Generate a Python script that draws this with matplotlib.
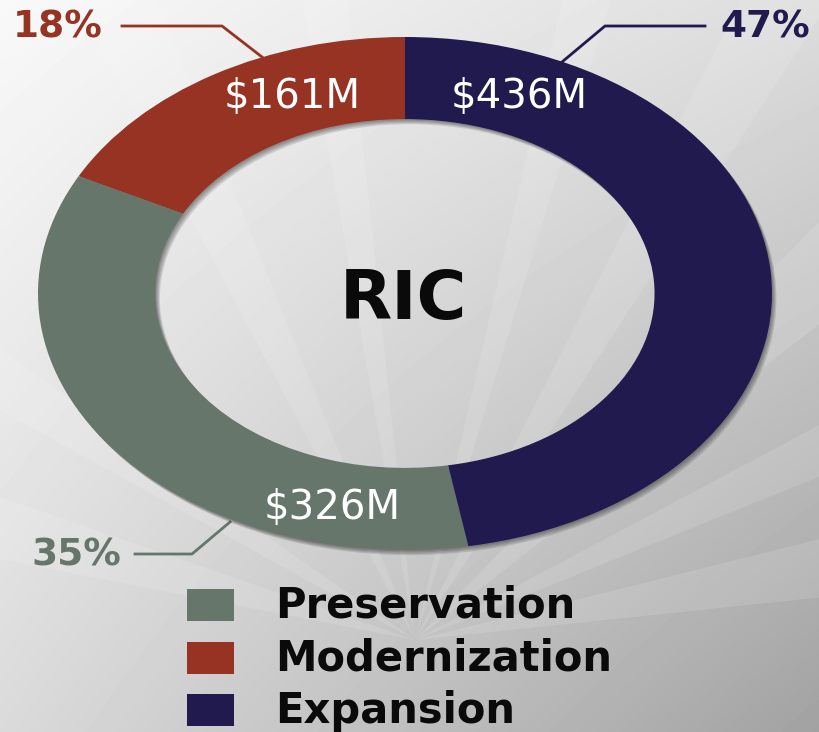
import matplotlib.pyplot as plt
import numpy as np
from matplotlib.patches import Rectangle, Polygon

# chart data
categories = ["Preservation", "Modernization", "Expansion"]
amounts = [326, 161, 436]          # $M
percents = [35, 18, 47]            # as printed on the chart
colors = ["#66766a", "#963322", "#201a4f"]

W, H = 819, 732


def main():
    fig = plt.figure(figsize=(W / 100, H / 100), dpi=100)

    # background axes in pixel coordinates
    bg = fig.add_axes([0, 0, 1, 1])
    bg.set_xlim(0, W)
    bg.set_ylim(H, 0)
    bg.axis("off")

    # soft gray gradient, light at top-left, darker at bottom-right
    u, v = np.meshgrid(np.linspace(0, 1, 200), np.linspace(0, 1, 200))
    shade = 0.975 - 0.11 * u - 0.12 * v - 0.11 * u * v
    bg.imshow(shade, cmap="gray", vmin=0, vmax=1, extent=(0, W, H, 0),
              aspect="auto", interpolation="bilinear", zorder=0)

    # faint light rays coming from below the ring
    apex = (415, 640)
    for ang, spread in [(195, 4), (212, 3), (245, 3), (262, 2), (285, 2),
                        (300, 3), (318, 4), (335, 3), (350, 4)]:
        a1, a2 = np.radians(ang - spread), np.radians(ang + spread)
        pts = [apex,
               (apex[0] + 900 * np.cos(a1), apex[1] + 900 * np.sin(a1)),
               (apex[0] + 900 * np.cos(a2), apex[1] + 900 * np.sin(a2))]
        bg.add_patch(Polygon(pts, closed=True, facecolor="white",
                             edgecolor="none", alpha=0.12, zorder=1))

    # donut axes stretched into an ellipse
    ax = fig.add_axes([38 / W, (H - 550) / H, 734 / W, 513 / H])
    order = [1, 0, 2]  # counter-clockwise from the top
    vals = [amounts[i] for i in order]
    cols = [colors[i] for i in order]

    # soft drop shadow: a few stacked faint rings
    for k in range(1, 5):
        shadow, _ = ax.pie([1], radius=1, center=(0.003 * k, -0.005 * k),
                           colors=["#202020"],
                           wedgeprops=dict(width=0.32, alpha=0.14, linewidth=0))
        for w in shadow:
            w.set_clip_on(False)
    wedges, _ = ax.pie(vals, radius=1, startangle=90, counterclock=True,
                       colors=cols, wedgeprops=dict(width=0.32, linewidth=0))
    for w in wedges:
        w.set_clip_on(False)
    ax.set_xlim(-1, 1)
    ax.set_ylim(-1, 1)
    ax.set_aspect("auto")
    ax.axis("off")

    # centre title
    fig.text(403 / W, 1 - 300 / H, "RIC", ha="center", va="center",
             fontsize=49, fontweight="bold", color="#0a0a0a")

    # amount labels inside the ring
    amount_pos = {"Modernization": (292, 97), "Expansion": (519, 97),
                  "Preservation": (332, 508)}
    for cat, amt in zip(categories, amounts):
        x, y = amount_pos[cat]
        fig.text(x / W, 1 - y / H, f"${amt}M", ha="center", va="center",
                 fontsize=29, color="white")

    # percentage call-outs with leader lines
    callouts = {
        "Modernization": dict(text=(58, 27), line=[(122, 26), (222, 26), (262, 57)]),
        "Expansion": dict(text=(765, 27), line=[(705, 26), (605, 26), (562, 62)]),
        "Preservation": dict(text=(76, 555), line=[(135, 554), (192, 554), (230, 522)]),
    }
    for cat, pct, col in zip(categories, percents, colors):
        c = callouts[cat]
        xs, ys = zip(*c["line"])
        bg.plot(xs, ys, color=col, lw=2, zorder=3)
        bg.text(*c["text"], f"{pct}%", ha="center", va="center",
                fontsize=27, fontweight="bold", color=col, zorder=3)

    # legend
    for i, (cat, col) in enumerate(zip(categories, colors)):
        yc = 605 + i * 52.5
        bg.add_patch(Rectangle((187, yc - 16), 47, 32, facecolor=col,
                               edgecolor="none", zorder=3))
        bg.text(275, yc + 1, cat, ha="left", va="center", fontsize=30,
                fontweight="bold", color="#0a0a0a", zorder=3)


if __name__ == "__main__":

    main()

    plt.savefig("out.png", dpi=100)
